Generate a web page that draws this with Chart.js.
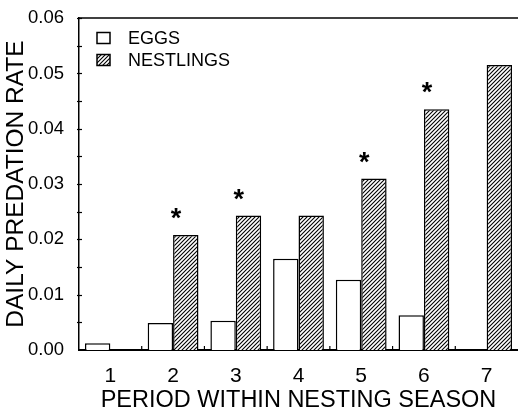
<!DOCTYPE html>
<html>
<head>
<meta charset="utf-8">
<script src="https://cdn.jsdelivr.net/npm/chart.js@4/dist/chart.umd.min.js"></script>
<style>
  body { margin: 0; background: #fff; }
  canvas { display: block; }
</style>
</head>
<body>
<canvas id="predationChart" width="518" height="412"></canvas>
<script>
const periods = ["1", "2", "3", "4", "5", "6", "7"];
const eggs = [0.0012, 0.0049, 0.0053, 0.0165, 0.0127, 0.0063, null];
const nestlings = [null, 0.0208, 0.0243, 0.0243, 0.031, 0.0435, 0.0515];
// asterisk over the nestling bar = significant difference
const significant = [false, true, true, false, true, true, false];
const yTicks = [0, 0.01, 0.02, 0.03, 0.04, 0.05, 0.06];

const FONT = "'Liberation Sans', Arial, Helvetica, sans-serif";

// diagonal hatch for the nestling bars
function makeHatch() {
  const c = document.createElement("canvas");
  c.width = 4;
  c.height = 4;
  const g = c.getContext("2d");
  g.fillStyle = "#fff";
  g.fillRect(0, 0, 4, 4);
  g.strokeStyle = "#000";
  g.lineWidth = 1.1;
  g.beginPath();
  g.moveTo(0, 4);
  g.lineTo(4, 0);
  g.moveTo(-1, 1);
  g.lineTo(1, -1);
  g.moveTo(3, 5);
  g.lineTo(5, 3);
  g.stroke();
  return g.createPattern(c, "repeat");
}

const ctx = document.getElementById("predationChart").getContext("2d");
const hatch = makeHatch();

const extras = {
  id: "extras",
  beforeDraw(chart) {
    const c = chart.ctx;
    c.save();
    c.fillStyle = "#fff";
    c.fillRect(0, 0, chart.width, chart.height);
    c.restore();
  },
  afterDraw(chart) {
    const c = chart.ctx;
    const area = chart.chartArea;
    const x = chart.scales.x;
    const y = chart.scales.y;
    c.save();
    c.strokeStyle = "#000";

    // top frame line
    c.lineWidth = 1.5;
    c.beginPath();
    c.moveTo(area.left, area.top);
    c.lineTo(chart.width, area.top);
    c.stroke();

    // small ticks on y axis
    c.lineWidth = 1.2;
    for (let v = 0.005; v <= 0.0601; v += 0.005) {
      const py = Math.round(y.getPixelForValue(v)) + 0.5;
      c.beginPath();
      c.moveTo(area.left - 2, py);
      c.lineTo(area.left + 3, py);
      c.stroke();
    }
    // small ticks between periods on x axis
    for (let i = 0; i < periods.length - 1; i++) {
      const px = (x.getPixelForValue(i) + x.getPixelForValue(i + 1)) / 2;
      c.beginPath();
      c.moveTo(px, area.bottom);
      c.lineTo(px, area.bottom - 4);
      c.stroke();
    }

    // legend inside plot
    const items = chart.data.datasets;
    c.font = "18px " + FONT;
    c.textBaseline = "middle";
    items.forEach((ds, i) => {
      const ly = 38 + i * 22;
      c.fillStyle = ds.backgroundColor;
      c.fillRect(97, ly - 5.5, 13, 11);
      c.lineWidth = 1.5;
      c.strokeRect(97, ly - 5.5, 13, 11);
      c.fillStyle = "#000";
      c.fillText(ds.label, 128, ly + 1);
    });

    // asterisks
    const meta = chart.getDatasetMeta(1);
    c.font = "bold 27px " + FONT;
    c.textAlign = "center";
    c.textBaseline = "alphabetic";
    significant.forEach((s, i) => {
      if (!s) return;
      const bar = meta.data[i];
      const bx = bar.x - bar.width / 2 + 3;
      c.fillText("*", bx, bar.y - 8);
    });
    c.restore();
  },
};

const chart = new Chart(ctx, {
  type: "bar",
  data: {
    labels: periods,
    datasets: [
      {
        label: "EGGS",
        data: eggs,
        backgroundColor: "#fff",
        borderColor: "#000",
        borderWidth: 1.5,
        borderSkipped: "bottom",
      },
      {
        label: "NESTLINGS",
        data: nestlings,
        backgroundColor: hatch,
        borderColor: "#000",
        borderWidth: 1.5,
        borderSkipped: "bottom",
      },
    ],
  },
  options: {
    responsive: false,
    animation: false,
    devicePixelRatio: 1,
    layout: { padding: { top: 12, right: 0, left: 0, bottom: 0 } },
    datasets: {
      bar: { categoryPercentage: 0.81, barPercentage: 1.0 },
    },
    plugins: {
      legend: { display: false },
      tooltip: { enabled: false },
    },
    scales: {
      x: {
        grid: { display: false },
        border: { display: true, color: "#000", width: 2 },
        ticks: {
          color: "#000",
          padding: 6,
          maxRotation: 0,
          font: { family: FONT, size: 21 },
        },
        title: {
          display: true,
          text: "PERIOD WITHIN NESTING SEASON",
          color: "#000",
          font: { family: FONT, size: 23.5, lineHeight: 1 },
          padding: { top: 0, bottom: 0 },
        },
        afterFit(scale) {
          scale.height = 62;
        },
      },
      y: {
        min: 0,
        max: 0.06,
        grid: { display: false },
        border: { display: true, color: "#000", width: 1.5 },
        afterBuildTicks(scale) {
          scale.ticks = yTicks.map((v) => ({ value: v }));
        },
        ticks: {
          color: "#000",
          padding: 7,
          font: { family: FONT, size: 18.5 },
          callback: (v) => Number(v).toFixed(2),
        },
        title: {
          display: true,
          text: "DAILY PREDATION RATE",
          color: "#000",
          font: { family: FONT, size: 24.5, lineHeight: 1 },
          padding: { top: 4, bottom: 0 },
        },
        afterFit(scale) {
          scale.width = 79;
        },
      },
    },
  },
  plugins: [extras],
});
</script>
</body>
</html>
